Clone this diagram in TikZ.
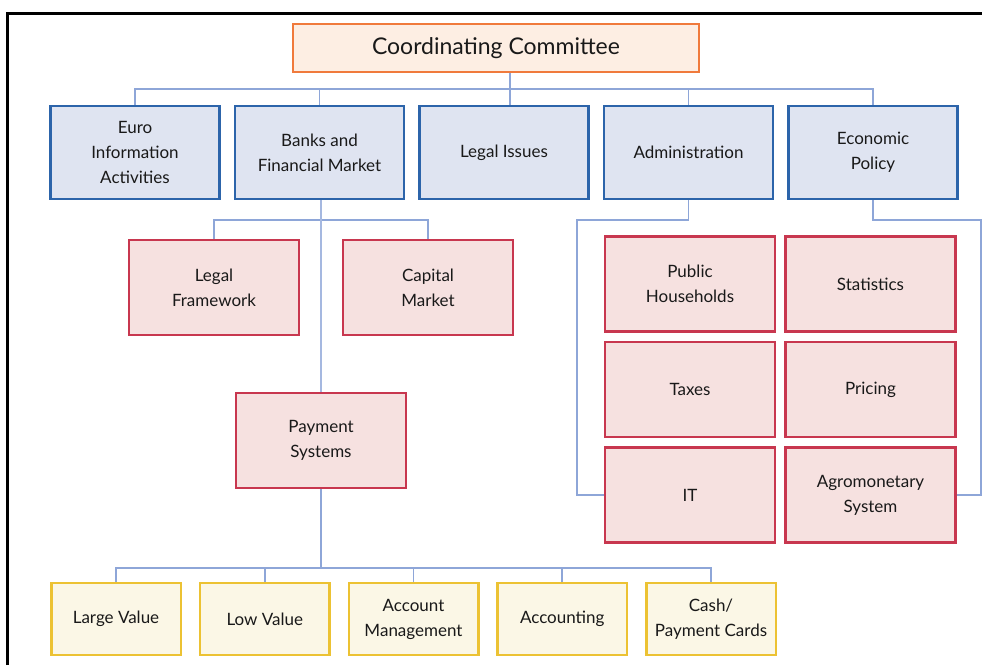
\documentclass[tikz,border=0pt]{standalone}
\usepackage{fontspec}
\setmainfont{Lato}
\usetikzlibrary{positioning}
\definecolor{peach}{HTML}{FDEEE3}
\definecolor{orangeline}{HTML}{F07A3C}
\definecolor{bluefill}{HTML}{DFE4F1}
\definecolor{blueline}{HTML}{2C64AA}
\definecolor{redfill}{HTML}{F6E1E0}
\definecolor{redline}{HTML}{C8374F}
\definecolor{yellowfill}{HTML}{FBF7E6}
\definecolor{yellowline}{HTML}{ECC233}
\definecolor{linkblue}{HTML}{8EA6D8}

\begin{document}
\begin{tikzpicture}
 [x=1pt,y=-1pt,
   every node/.style={draw,align=center,inner sep=2pt,line width=2.5pt,
     text=black!90,font=\fontsize{17}{25}\selectfont},
   committee/.style={fill=peach,draw=orangeline,minimum width=406pt,minimum height=48pt,
     font=\fontsize{23}{28}\selectfont},
   dept/.style={fill=bluefill,draw=blueline,minimum width=169pt,minimum height=93pt},
   unit/.style={fill=redfill,draw=redline,minimum width=170pt,minimum height=95pt},
   task/.style={fill=yellowfill,draw=yellowline,minimum width=129.5pt,minimum height=72pt},
   link/.style={draw=linkblue,line width=1.6pt},
   trunk/.style={draw=linkblue!80,line width=2.6pt}]
  \useasboundingbox (0,0) rectangle (982,665);
  \draw[line width=3pt] (7,665) -- (7,13) -- (982,13);

  \node[committee] (coord) at (496,48) {Coordinating Committee};

  \node[dept] (euro) at (135,152.5) {Euro\\Information\\Activities};
  \node[dept,right=13pt of euro] (banks) {Banks and\\Financial Market};
  \node[dept,right=13pt of banks] (legal) {Legal Issues};
  \node[dept,right=13pt of legal] (admin) {Administration};
  \node[dept,right=13pt of admin] (econ) {Economic\\Policy};

  \node[unit] (framework) at (214,287.5) {Legal\\Framework};
  \node[unit] (capital) at (428,287.5) {Capital\\Market};
  \node[unit] (payment) at (321,440.5) {Payment\\Systems};

  \node[unit] (public) at (690,284) {Public\\Households};
  \node[unit,right=8pt of public] (stats) {Statistics};
  \node[unit,below=8pt of public] (taxes) {Taxes};
  \node[unit,below=8pt of stats] (pricing) {Pricing};
  \node[unit,below=8pt of taxes] (it) {IT};
  \node[unit,below=8pt of pricing] (agro) {Agromonetary\\System};

  \node[task] (large) at (116,619) {Large Value};
  \node[task,right=16.75pt of large] (low) {Low Value};
  \node[task,right=16.75pt of low] (account) {Account\\Management};
  \node[task,right=16.75pt of account] (accounting) {Accounting};
  \node[task,right=16.75pt of accounting] (cash) {Cash/\\Payment Cards};

  \coordinate (bus1) at (510,89);
  \coordinate (bus2) at (321,220);
  \coordinate (bus3) at (321,568);
  \coordinate (leftrail) at (577,0);
  \coordinate (rightrail) at (981,0);

  \draw[link] (coord.south -| bus1) -- (legal.north -| bus1);
  \foreach \n in {euro,banks,admin,econ}
    \draw[link] (\n.north) |- (bus1);
  \draw[link] (framework.north) |- (bus2) -| (capital.north);
  \draw[trunk] (banks.south -| bus2) -- (payment.north -| bus2);
  \draw[link] (payment.south -| bus3) -- (bus3);
  \foreach \n in {large,low,account,accounting,cash}
    \draw[link] (\n.north) |- (bus3);
  \draw[link] (admin.south) -- ++(0,20) -| (leftrail |- it.west) -- (it.west);
  \draw[link] (econ.south) -- ++(0,20) -| (rightrail |- agro.east) -- (agro.east);
\end{tikzpicture}
\end{document}
